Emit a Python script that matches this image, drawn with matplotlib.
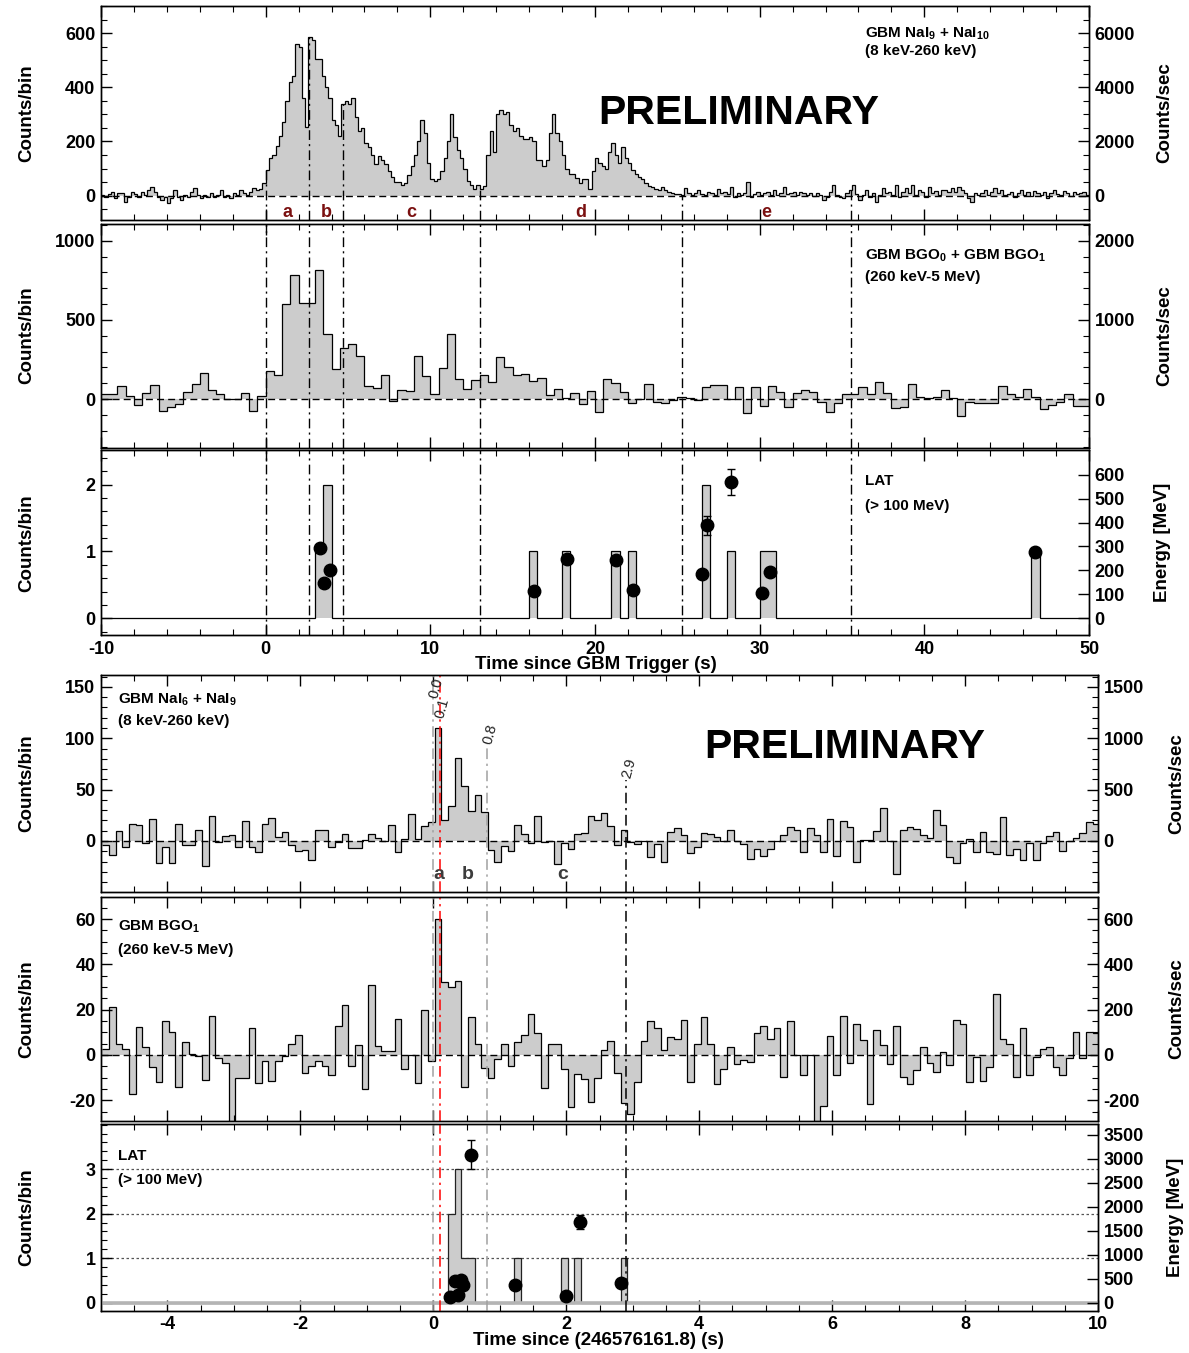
import numpy as np
import matplotlib.pyplot as plt
from matplotlib.ticker import MultipleLocator, NullLocator, FixedLocator

plt.rcParams['font.family'] = ['Liberation Sans', 'DejaVu Sans']
plt.rcParams['font.weight'] = 'bold'
plt.rcParams['axes.labelweight'] = 'bold'
plt.rcParams['axes.unicode_minus'] = False
plt.rcParams['mathtext.fontset'] = 'custom'
plt.rcParams['mathtext.rm'] = 'Liberation Sans:bold'
plt.rcParams['mathtext.default'] = 'rm'

# ---------- upper block: time since GBM trigger ----------
# NaI 9 + NaI 10, 0.2 s bins from -10 s
nai_pre = [2, -4, 5, 15, -10, 11, 9, -22, -4, 15,
           6, -4, 15, 2, 21, 33, 15, -4, -16, -4,
           -26, -10, 21, -4, -16, 2, -4, 15, 27, 2,
           -10, 2, -4, 9, -4, 2, 21, -4, 2, -10,
           9, 2, 21, 9, 2, 15, 27, 21, 25, 45]
nai_burst = [95, 140, 150, 185, 220, 270, 350, 420, 440, 560,
             550, 360, 255, 585, 575, 505, 505, 440, 400, 360,
             280, 260, 220, 340, 350, 340, 360, 290, 240, 250,
             195, 180, 150, 115, 145, 130, 115, 90, 70, 50,
             50, 40, 45, 75, 110, 150, 200, 280, 230, 120,
             60, 55, 60, 90, 140, 200, 300, 215, 170, 140,
             100, 55, 40, 25, 40, 25, 35, 150, 240, 160,
             300, 315, 300, 310, 260, 240, 250, 220, 210, 210,
             215, 200, 130, 130, 110, 130, 230, 300, 230, 200,
             150, 100, 80, 80, 65, 45, 60, 60, 25, 90,
             140, 120, 110, 100, 160, 195, 150, 120, 180, 140,
             120, 95, 80, 70, 60, 45, 35, 30, 25, 20,
             30, 20, 15, 10, 5]
nai_post = [5, 2, 27, 8, 2, 11, 21, 6, 2, 15,
            9, 4, 23, 9, 15, 6, 33, -4, 11, 2,
            9, 52, -4, 6, 15, 2, 9, 15, 2, 21,
            2, 8, 31, 6, 11, 15, 2, 15, 9, 2,
            11, -1, 9, 4, -16, -4, 15, 39, 2, -4,
            -10, 9, 21, 39, 6, -16, 2, 21, -4, 9,
            -22, 2, 27, 9, 15, 2, 39, -4, 15, 27,
            9, 39, 2, 21, 15, -4, 33, 9, 18, 2,
            21, 21, 15, 27, 15, 33, 21, 9, -10, -22,
            9, 2, 11, 21, 2, 15, 27, 9, 21, 2,
            6, 15, -6, 9, 21, 4, 12, -2, 18, 9,
            3, 14, -8, 11, 20, 6, 2, 17, 9, -3,
            12, 5, 8, 15, 4]
nai_counts = np.array(nai_pre + nai_burst + nai_post, dtype=float)
nai_bin = 0.2

# BGO 0 + BGO 1, 0.5 s bins from -10 s
bgo_counts = np.array([
    32, 32, 80, 17, -36, 38, 86, -78, -53, -29,
    44, 93, 162, 59, 32, 2, 0, 38, -78, 19,
    175, 150, 602, 781, 608, 608, 815, 408, 187, 320,
    345, 272, 80, 72, 154, -15, 57, 51, 272, 143,
    29, 194, 408, 124, 63, 118, 154, 105, 263, 204,
    150, 160, 112, 133, 23, 65, 8, 38, -29, 51,
    -80, 126, 99, 46, -23, 0, 93, -17, -25, -6,
    15, 6, -8, 74, 86, 86, 0, 78, -90, 78,
    -44, 82, 46, -48, 36, 57, 46, -17, -80, -23,
    32, 32, 78, 29, 105, 40, -59, -48, 93, 15,
    4, 10, 57, 8, -107, -21, -23, -27, -23, 84,
    32, 10, 61, 15, -63, -40, -17, 29, -44, -44], dtype=float)
bgo_bin = 0.5

# LAT > 100 MeV, 0.5 s bins
lat_bin_starts = [3.0, 3.5, 16.0, 18.0, 21.0, 22.0, 26.5, 28.0, 30.0, 30.5, 46.5]
lat_bin_counts = [1, 2, 1, 1, 1, 1, 2, 1, 1, 1, 1]
lat_time = [3.27, 3.52, 3.88, 16.28, 18.27, 21.3, 22.3, 26.52, 26.83, 28.25, 30.15, 30.6, 46.73]
lat_energy = [292, 148, 200, 115, 247, 243, 118, 187, 389, 569, 104, 192, 275]
lat_err = [12, 8, 10, 8, 12, 12, 8, 10, 40, 56, 8, 10, 20]

interval_edges = [0.0, 2.66, 4.69, 13.02, 25.27, 35.55]
interval_names = ['a', 'b', 'c', 'd', 'e']

# ---------- lower block: time since 246576161.8 ----------
# NaI 6 + NaI 9, 0.1 s bins from -5 s
nai2_counts = np.array([
    -4, -14, 10, -6, 17, 16, -2, 21, -21, -6,
    -21, 17, -4, -4, 11, -24, 24, -1, 5, 6,
    -6, 19, -6, -11, 17, 22, 4, 9, -4, -10,
    -9, -19, 11, 11, -6, -1, 7, -7, -7, 1,
    7, 3, 0, 16, -11, 2, 26, 2, 15, 18,
    110, 20, 34, 81, 54, 29, 45, 28, -9, -20,
    -5, -10, 16, 7, -2, 24, -1, 0, -22, -2,
    -8, 7, 8, 24, 20, 27, 15, -4, 11, -1,
    -3, 0, -16, -3, -20, 9, 13, 6, -12, -6,
    8, 7, 4, 0, 11, 0, -3, -18, -8, -15,
    -8, 0, 6, 14, 11, -11, 13, 6, -11, 21,
    -15, 19, 14, -20, 1, 1, 10, 32, 0, -32,
    11, 14, 12, 6, 3, 30, 16, -16, -21, -2,
    2, -11, 9, -11, -13, 23, -14, -8, -19, -2,
    -19, -2, 5, 9, -10, 0, 3, 8, 18, 17], dtype=float)

# BGO 1, 0.1 s bins from -5 s
bgo2_counts = np.array([
    2.5, 21, 5, 2.5, -17, 12.5, 3.4, -5.4, -12, 15,
    10, -14, 5.6, 0.4, -0.3, -11, 17, -1.5, -3.4, -35,
    -10, -10, 12, -12.5, -2.5, -11.5, -2.5, -0.3, 4.7, 8.7,
    -7.8, -4.7, -2.6, -4.7, -8.8, 13, 22, -4.9, 4.4, -15,
    31, 4, 1.8, 1.8, 16, -6.3, 0, -12.5, 20, -2.5,
    60, 32, 30, 32.6, -14, 16.6, 4.9, -5.9, -10, -1.9,
    4.9, -4.9, 5.9, 8.8, 18, 9.6, -14.7, 4.9, 4.9, -6.2,
    -22.8, -8.4, -10.6, -20.9, -10, 2, 6, -8, -21, -26,
    -12, 6, 15, 12, 2, 8, 7, 15.5, -12, 5,
    16.7, 5, -13, -6, 3.6, -4, -2, -3, 9.7, 12.6,
    7, 12, -9.7, 15, 0, -8.7, 0, -35, -22.5, 8.4,
    -8.7, 17.4, -3.6, 13.5, 6.8, -21.7, 10.9, 4.3, -3.9, 13,
    -9.7, -12.6, -6.5, 3.6, -3.6, -7.7, 1.4, -4.3, 15.5, 13.8,
    -12, -1, -11.6, -5.4, 26.8, 7.2, 5, -9.7, 12, -9,
    -1, 2.5, 3.6, -5.4, -8.7, -1.4, 10, -1.4, 10, 9.7])
bin2 = 0.1
bin2_offset = 0.02

lat2_bin_starts = [0.2, 0.3, 0.4, 0.5, 1.2, 1.9, 2.1, 2.8]
lat2_bin_counts = [2, 3, 1, 1, 1, 1, 1, 1]
lat2_time = [0.25, 0.37, 0.33, 0.41, 0.44, 0.57, 1.23, 1.99, 2.2, 2.82]
lat2_energy = [125, 159, 457, 470, 367, 3080, 367, 145, 1681, 401]
lat2_err = [15, 15, 30, 30, 25, 305, 25, 15, 155, 25]

marker_times = [0.0, 0.1, 0.8, 2.9]
marker_labels = ['0.0', '0.1', '0.8', '2.9']
marker_colors = ['#a0a0a0', 'red', '#a0a0a0', 'black']
phase_pos = [0.08, 0.52, 1.95]
phase_names = ['a', 'b', 'c']

FILL = '#cccccc'
DASHDOT = (0, (7, 3, 1.5, 3))
W, H = 1189, 1353


def axes_px(left, top, right, bottom):
    return fig.add_axes([left / W, 1 - bottom / H, (right - left) / W, (bottom - top) / H])


def style(ax, xmaj, xmin, ymaj, ymin):
    ax.xaxis.set_major_locator(MultipleLocator(xmaj))
    ax.xaxis.set_minor_locator(MultipleLocator(xmin))
    if isinstance(ymaj, list):
        ax.yaxis.set_major_locator(FixedLocator(ymaj))
    else:
        ax.yaxis.set_major_locator(MultipleLocator(ymaj))
    if ymin:
        ax.yaxis.set_minor_locator(MultipleLocator(ymin))
    else:
        ax.yaxis.set_minor_locator(NullLocator())
    ax.tick_params(which='both', direction='in', top=True, bottom=True, labelsize=13, pad=4)
    ax.tick_params(which='major', length=8, width=1)
    ax.tick_params(which='minor', length=4, width=0.8)
    for s in ax.spines.values():
        s.set_linewidth(1.0)


def twin(ax, factor, ymaj, ymin, label, xlab):
    ax2 = ax.twinx()
    lo, hi = ax.get_ylim()
    ax2.set_ylim(lo * factor, hi * factor)
    if isinstance(ymaj, list):
        ax2.yaxis.set_major_locator(FixedLocator(ymaj))
    else:
        ax2.yaxis.set_major_locator(MultipleLocator(ymaj))
    if ymin:
        ax2.yaxis.set_minor_locator(MultipleLocator(ymin))
    ax2.tick_params(which='both', direction='in', labelsize=13, pad=4)
    ax2.tick_params(which='major', length=8, width=1)
    ax2.tick_params(which='minor', length=4, width=0.8)
    for s in ax2.spines.values():
        s.set_linewidth(1.0)
    ax2.set_ylabel(label, fontsize=13.5)
    ax2.yaxis.set_label_coords(xlab, 0.5)
    return ax2


def hist(ax, values, edges, line='k'):
    ax.stairs(values, edges, baseline=0, fill=True, color=FILL, zorder=1)
    ax.stairs(values, edges, baseline=None, color=line, lw=0.9, zorder=2)


fig = plt.figure(figsize=(W / 100, H / 100), dpi=100)

# ---------------- upper block ----------------
ax1 = axes_px(101, 6, 1089, 220)
ax2 = axes_px(101, 223.5, 1089, 447.5)
ax3 = axes_px(101, 450.5, 1089, 635)
top_axes = [ax1, ax2, ax3]

nai_edges = -10 + nai_bin * np.arange(len(nai_counts) + 1)
bgo_edges = -10 + bgo_bin * np.arange(len(bgo_counts) + 1)
lat_counts = np.zeros(len(bgo_counts))
lat_idx = np.round((np.array(lat_bin_starts) + 10) / bgo_bin).astype(int)
lat_counts[lat_idx] = lat_bin_counts

ax1.set_ylim(-90, 700)
ax2.set_ylim(-306, 1109)
ax3.set_ylim(-0.25, 2.51)
for ax in top_axes:
    ax.set_xlim(-10, 50)

hist(ax1, nai_counts, nai_edges)
hist(ax2, bgo_counts, bgo_edges)
hist(ax3, lat_counts, bgo_edges)
for ax in (ax1, ax2):
    ax.axhline(0, color='k', lw=1, ls=(0, (5, 3)), zorder=3)

# interval boundaries: hang from the NaI curve, full height below
for t in interval_edges:
    k = np.searchsorted(nai_edges, t, side='right') - 1
    ax1.vlines(t, -90, max(nai_counts[k], 0), color='k', lw=1, ls=DASHDOT, zorder=4)
    ax2.axvline(t, color='k', lw=1, ls=DASHDOT, zorder=4)
    ax3.axvline(t, color='k', lw=1, ls=DASHDOT, zorder=4)
for i, name in enumerate(interval_names):
    mid = 0.5 * (interval_edges[i] + interval_edges[i + 1])
    ax1.text(mid, -62, name, color='#7a1010', fontsize=13, ha='center', va='center')

style(ax1, 10, 2, 200, 50)
style(ax2, 10, 2, 500, 100)
style(ax3, 10, 2, [0, 1, 2], 0.2)
ax1.tick_params(labelbottom=False)
ax2.tick_params(labelbottom=False)

ax1.text(0.773, 0.87, 'GBM NaI$_{9}$ + NaI$_{10}$', transform=ax1.transAxes, fontsize=11, va='center')
ax1.text(0.773, 0.79, '(8 keV-260 keV)', transform=ax1.transAxes, fontsize=11, va='center')
ax1.text(0.645, 0.5, 'PRELIMINARY', transform=ax1.transAxes, fontsize=29.5, ha='center', va='center')
ax2.text(0.773, 0.855, 'GBM BGO$_{0}$ + GBM BGO$_{1}$', transform=ax2.transAxes, fontsize=11, va='center')
ax2.text(0.773, 0.761, '(260 keV-5 MeV)', transform=ax2.transAxes, fontsize=11, va='center')
ax3.text(0.773, 0.832, 'LAT', transform=ax3.transAxes, fontsize=11, va='center')
ax3.text(0.773, 0.697, '(> 100 MeV)', transform=ax3.transAxes, fontsize=11, va='center')

for ax in top_axes:
    ax.set_ylabel('Counts/bin', fontsize=13.5)
    ax.yaxis.set_label_coords(-0.067, 0.5)
ax3.set_xlabel('Time since GBM Trigger (s)', fontsize=13.5)
ax3.xaxis.set_label_coords(0.501, -0.112)

twin(ax1, 10, 2000, 500, 'Counts/sec', 1.068)
twin(ax2, 2, 1000, 200, 'Counts/sec', 1.068)
e3 = twin(ax3, 279.2, [0, 100, 200, 300, 400, 500, 600], None, 'Energy [MeV]', 1.066)
e3.errorbar(lat_time, lat_energy, yerr=lat_err, fmt='o', color='k', ms=9,
            elinewidth=1, capsize=3, capthick=1, zorder=5)

# ---------------- lower block ----------------
ax4 = axes_px(101, 675, 1098, 891.7)
ax5 = axes_px(101, 897.3, 1098, 1120.7)
ax6 = axes_px(101, 1123.8, 1098, 1310.7)
low_axes = [ax4, ax5, ax6]

edges2 = -5 + bin2_offset + bin2 * np.arange(len(nai2_counts) + 1)
lat2_counts = np.zeros(len(nai2_counts))
lat2_idx = np.round((np.array(lat2_bin_starts) + 5) / bin2).astype(int)
lat2_counts[lat2_idx] = lat2_bin_counts

ax4.set_ylim(-49.4, 161.6)
ax5.set_ylim(-29, 69.6)
ax6.set_ylim(-0.18, 4.02)
for ax in low_axes:
    ax.set_xlim(-5, 10)

hist(ax4, nai2_counts, edges2)
hist(ax5, bgo2_counts, edges2)
hist(ax6, lat2_counts, edges2, line='#222222')
for ax in (ax4, ax5):
    ax.axhline(0, color='k', lw=1, ls=(0, (5, 3)), zorder=3)
ax6.axhline(0, color='#b4b4b4', lw=2.6, zorder=3)
for lvl in (1, 2, 3):
    ax6.axhline(lvl, color='#555555', lw=0.9, ls=(0, (2, 2)), zorder=0.5)

# time markers running through the three lower panels
line_tops = [161.6, 161.6, 91.5, 59.4]
label_pos = [(0.05, 149), (0.14, 129.5), (0.86, 104), (2.95, 71)]
for t, lab, col, top, (lx, ly) in zip(marker_times, marker_labels, marker_colors, line_tops, label_pos):
    ax4.vlines(t, -49.4, top, color=col, lw=1.1, ls=DASHDOT, zorder=4)
    ax5.axvline(t, color=col, lw=1.1, ls=DASHDOT, zorder=4)
    ax6.axvline(t, color=col, lw=1.1, ls=DASHDOT, zorder=4)
    ax4.text(lx, ly, lab, rotation=75, fontsize=10.5, fontweight='normal', color='#222222',
             ha='center', va='center', zorder=6)
for x, name in zip(phase_pos, phase_names):
    ax4.text(x, -33, name, fontsize=14, color='#3c3c3c', ha='center', va='center')

style(ax4, 2, 0.5, 50, 10)
style(ax5, 2, 0.5, 20, 5)
style(ax6, 2, 0.5, [0, 1, 2, 3], 0.2)
ax4.tick_params(labelbottom=False)
ax5.tick_params(labelbottom=False)

ax4.text(0.017, 0.885, 'GBM NaI$_{6}$ + NaI$_{9}$', transform=ax4.transAxes, fontsize=11, va='center')
ax4.text(0.017, 0.788, '(8 keV-260 keV)', transform=ax4.transAxes, fontsize=11, va='center')
ax4.text(0.746, 0.668, 'PRELIMINARY', transform=ax4.transAxes, fontsize=29.5, ha='center', va='center')
ax5.text(0.017, 0.867, 'GBM BGO$_{1}$', transform=ax5.transAxes, fontsize=11, va='center')
ax5.text(0.017, 0.764, '(260 keV-5 MeV)', transform=ax5.transAxes, fontsize=11, va='center')
ax6.text(0.017, 0.826, 'LAT', transform=ax6.transAxes, fontsize=11, va='center')
ax6.text(0.017, 0.698, '(> 100 MeV)', transform=ax6.transAxes, fontsize=11, va='center')

for ax in low_axes:
    ax.set_ylabel('Counts/bin', fontsize=13.5)
    ax.yaxis.set_label_coords(-0.066, 0.5)
ax6.set_xlabel('Time since (246576161.8) (s)', fontsize=13.5)
ax6.xaxis.set_label_coords(0.499, -0.112)

twin(ax4, 10, 500, 100, 'Counts/sec', 1.070)
twin(ax5, 10, 200, 50, 'Counts/sec', 1.070)
e6 = twin(ax6, 927, [0, 500, 1000, 1500, 2000, 2500, 3000, 3500], None, 'Energy [MeV]', 1.069)
e6.errorbar(lat2_time, lat2_energy, yerr=lat2_err, fmt='o', color='k', ms=9,
            elinewidth=1, capsize=3, capthick=1, zorder=5)

fig.savefig('out.png', dpi=100)
